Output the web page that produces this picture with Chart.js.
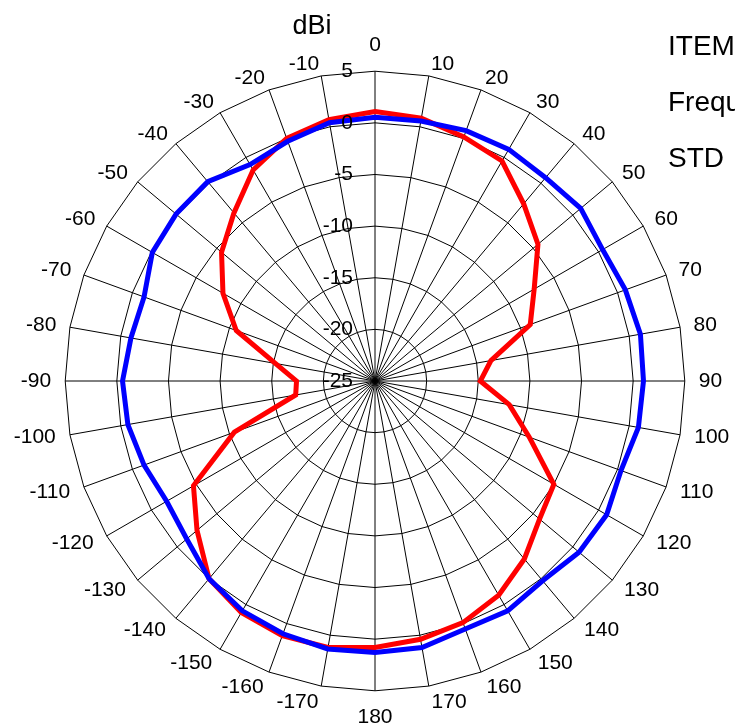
<!DOCTYPE html>
<html>
<head>
<meta charset="utf-8">
<script src="https://cdn.jsdelivr.net/npm/chart.js@4"></script>
<style>
  html, body { margin: 0; padding: 0; background: #fff; overflow: hidden; }
</style>
</head>
<body>
<canvas id="polarChart" width="735" height="728"></canvas>
<script>
// angle labels, clockwise from top
const angles = ['0', '10', '20', '30', '40', '50', '60', '70', '80', '90',
    '100', '110', '120', '130', '140', '150', '160', '170', '180',
    '-170', '-160', '-150', '-140', '-130', '-120', '-110', '-100',
    '-90', '-80', '-70', '-60', '-50', '-40', '-30', '-20', '-10'];

// dBi values in the same order as angles
const blueGain = [0.55, 0.57, 0.8, 0.9, 0.7, 1.0, 0.45, 0.8, 1.1, 1.0,
    0.9, 0.35, 0.9, 0.8, 0.25, 0.7, 0.55, 1.2, 1.3,
    1.35, 1.05, 0.7, 0.0, -1.2, -1.7, -1.2, -0.7,
    -0.55, -1.0, -1.2, -0.1, 0.15, 0.2, -0.8, -0.3, 0.4];

const redGain = [1.1, 0.85, 0.15, -0.4, -2.6, -4.4, -7.2, -9.0, -13.6, -14.8,
    -11.8, -9.1, -5.0, -4.2, -2.5, -1.05, -0.1, 0.4, 0.8,
    1.2, 1.25, 0.9, 0.0, -2.5, -4.7, -10.5, -17.2,
    -17.4, -15.2, -10.7, -8.0, -5.6, -3.75, -1.4, 0.0, 0.7];

const legendLines = ['ITEM', 'Frequency', 'STD'];

const FONT = '"Liberation Sans", Arial, sans-serif';

// labels are vertically centred on their spoke (tiny lineHeight),
// the 0 and 180 labels sit a bit further out
function labelPadding(ctx) {
    const a = ctx.index * 10 * Math.PI / 180;
    if (Math.abs(Math.sin(a)) < 1e-6) return 26;
    return 14 - 2 * Math.cos(a);
}

// tick labels left of the 0 spoke, title and the cut-off legend text
const textPlugin = {
    id: 'textPlugin',
    afterDraw(chart) {
        const ctx = chart.ctx;
        const s = chart.scales.r;
        ctx.save();
        ctx.fillStyle = '#000';
        ctx.font = '21px ' + FONT;
        ctx.textAlign = 'right';
        ctx.textBaseline = 'middle';
        s.ticks.forEach(t => {
            const y = s.yCenter - s.getDistanceFromCenterForValue(t.value);
            ctx.fillText(t.label, s.xCenter - 22, y);
        });

        ctx.textAlign = 'center';
        ctx.textBaseline = 'alphabetic';
        ctx.font = '27px ' + FONT;
        ctx.fillText('dBi', 312, 34);

        ctx.textAlign = 'left';
        ctx.font = '28px ' + FONT;
        legendLines.forEach((txt, i) => {
            ctx.fillText(txt, 668, 55 + i * 56);
        });
        ctx.restore();
    }
};

const polarCtx = document.getElementById('polarChart').getContext('2d');
const polarChart = new Chart(polarCtx, {
    type: 'radar',
    data: {
        labels: angles,
        datasets: [{
            data: blueGain,
            borderColor: '#0000ff',
            borderWidth: 5,
            pointRadius: 0,
            fill: false
        }, {
            data: redGain,
            borderColor: '#ff0000',
            borderWidth: 5,
            pointRadius: 0,
            fill: false
        }]
    },
    options: {
        responsive: false,
        animation: false,
        layout: {padding: {left: 9, right: 0, top: 46, bottom: 10}},
        plugins: {
            legend: {display: false},
            tooltip: {enabled: false}
        },
        scales: {
            r: {
                min: -25,
                max: 5,
                ticks: {stepSize: 5, display: false},
                grid: {color: '#000', lineWidth: 1},
                angleLines: {color: '#000', lineWidth: 1},
                pointLabels: {
                    color: '#000',
                    padding: labelPadding,
                    font: {size: 21, family: FONT, lineHeight: 0.01}
                }
            }
        }
    },
    plugins: [textPlugin]
});
</script>
</body>
</html>
